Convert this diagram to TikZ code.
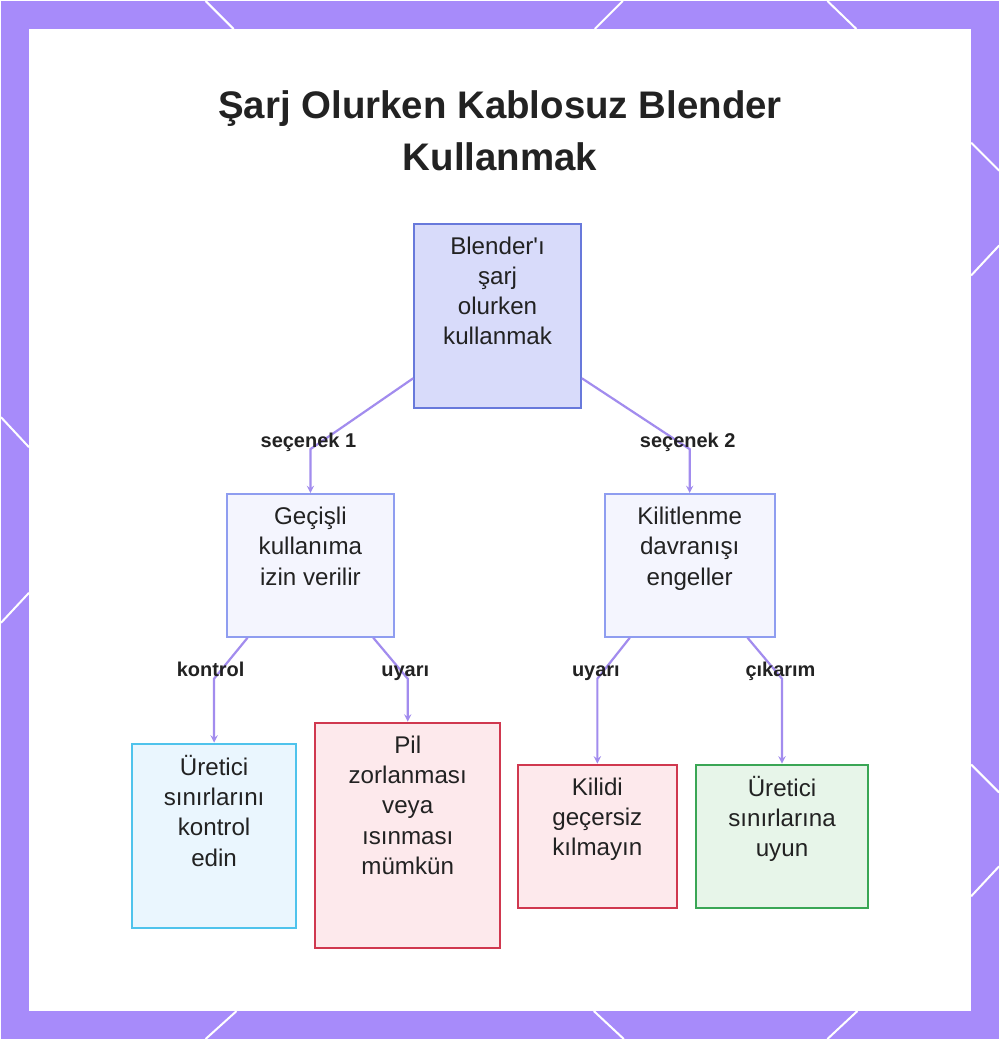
\documentclass[tikz,border=0pt]{standalone}
\usepackage{fontspec}
\setmainfont{Liberation Sans}[Ligatures=TeXOff]
\usetikzlibrary{arrows,positioning}
\definecolor{frame}{HTML}{A78BFA}
\definecolor{edgecol}{HTML}{A28CEE}
\definecolor{ink}{HTML}{222222}
\newcommand{\boxfont}{\fontsize{24.2}{30.3}\selectfont}

\begin{document}
\begin{tikzpicture}[x=1pt,y=-1pt,
    box/.style={draw,line width=2pt,inner sep=0pt},
    txt/.style={inner sep=0pt,align=center,text=ink,font=\boxfont},
    lab/.style={inner sep=0pt,anchor=base,text=ink,font=\fontsize{20}{24}\selectfont\bfseries},
    edge/.style={draw=edgecol,line width=2.2pt,->,>=stealth},
    deco/.style={white,line width=2pt}]
% frame and panel
\fill[frame] (0,0) rectangle (1000,1040);
\draw[deco] (205,0) -- (233,28);
\draw[deco] (623,0) -- (595,28);
\draw[deco] (828,0) -- (857,28);
\draw[deco] (0,417) -- (28,447);
\draw[deco] (0,623) -- (28,593);
\draw[deco] (972,142) -- (1000,170);
\draw[deco] (972,275) -- (1000,245);
\draw[deco] (972,765) -- (1000,793);
\draw[deco] (972,897) -- (1000,867);
\draw[deco] (236,1012) -- (205,1040);
\draw[deco] (594,1012) -- (624,1040);
\draw[deco] (858,1012) -- (828,1040);
\fill[white] (28,28) rectangle (972,1012);

\node[inner sep=0pt,anchor=north,align=center,text=ink,
      font=\fontsize{38.5}{52}\selectfont\bfseries] (title) at (500,90)
      {Şarj Olurken Kablosuz Blender\\Kullanmak};

% boxes
\node[box,fill={rgb,255:red,216;green,219;blue,250},draw={rgb,255:red,104;green,121;blue,219},
      minimum width=167pt,minimum height=185pt] (root) at (497.5,315.5) {};
\node[box,fill={rgb,255:red,244;green,245;blue,254},draw={rgb,255:red,143;green,157;blue,240},
      minimum width=168pt,minimum height=143pt] (gen) at (310,565.5) {};
\node[box,fill={rgb,255:red,244;green,245;blue,254},draw={rgb,255:red,143;green,157;blue,240},
      minimum width=170pt,minimum height=143pt] (lock) at (690,565.5) {};
\node[box,fill={rgb,255:red,234;green,246;blue,254},draw={rgb,255:red,79;green,195;blue,236},
      minimum width=165pt,minimum height=185pt] (chk) at (213.5,836.5) {};
\node[box,fill={rgb,255:red,253;green,233;blue,236},draw={rgb,255:red,208;green,56;blue,79},
      minimum width=185pt,minimum height=226pt] (risk) at (407.5,836) {};
\node[box,fill={rgb,255:red,253;green,233;blue,236},draw={rgb,255:red,208;green,56;blue,79},
      minimum width=159pt,minimum height=144pt] (nobypass) at (597.5,837) {};
\node[box,fill={rgb,255:red,231;green,245;blue,233},draw={rgb,255:red,58;green,166;blue,85},
      minimum width=173pt,minimum height=144pt] (obey) at (782.5,837) {};

\node[txt,below=14pt of root.north] (rootTxt) {Blender'ı\\şarj\\olurken\\kullanmak};
\node[txt,below=14pt of gen.north] (genTxt) {Geçişli\\kullanıma\\izin verilir};
\node[txt,below=14pt of lock.north] (lockTxt) {Kilitlenme\\davranışı\\engeller};
\node[txt,below=12.5pt of chk.north] (chkTxt) {Üretici\\sınırlarını\\kontrol\\edin};
\node[txt,below=14pt of risk.north] (riskTxt) {Pil\\zorlanması\\veya\\ısınması\\mümkün};
\node[txt,below=14pt of nobypass.north] (nobypassTxt) {Kilidi\\geçersiz\\kılmayın};
\node[txt,below=12.5pt of obey.north] (obeyTxt) {Üretici\\sınırlarına\\uyun};

% connectors
\draw[edge] ([yshift=31pt]root.south west) -- ([yshift=44pt]gen.north) -- (gen.north);
\draw[edge] ([yshift=31pt]root.south east) -- ([yshift=44pt]lock.north) -- (lock.north);
\draw[edge] ([xshift=22pt]gen.south west) -- ([yshift=64pt]chk.north) -- (chk.north);
\draw[edge] ([xshift=-22pt]gen.south east) -- ([yshift=43pt]risk.north) -- (risk.north);
\draw[edge] ([xshift=26pt]lock.south west) -- ([yshift=85pt]nobypass.north) -- (nobypass.north);
\draw[edge] ([xshift=-28pt]lock.south east) -- ([yshift=85pt]obey.north) -- (obey.north);

\node[lab] (opt1) at (308,447) {seçenek 1};
\node[lab] (opt2) at (688,447) {seçenek 2};
\node[lab] (ctrl) at (210,677) {kontrol};
\node[lab] (warnA) at (405,677) {uyarı};
\node[lab] (warnB) at (596,677) {uyarı};
\node[lab] (infer) at (781,677) {çıkarım};
\end{tikzpicture}
\end{document}
